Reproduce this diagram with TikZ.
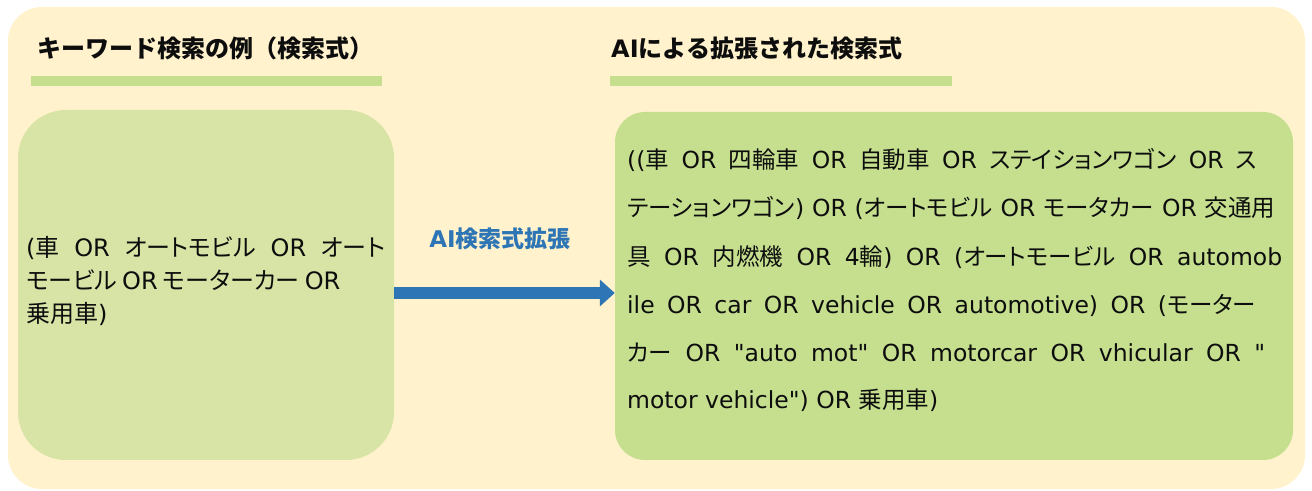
\documentclass[tikz,border=0pt]{standalone}
\usepackage{fontspec}
\setmainfont{DejaVu Sans}[Ligatures=TeXOff]
\newfontfamily\jp[RawFeature=+palt]{Noto Sans CJK JP}
\newfontfamily\jt{Noto Sans CJK JP}
\newcommand\J[1]{{\jp #1}}
\newcommand\JT[1]{{\jt #1}}
\usetikzlibrary{arrows.meta}
\definecolor{bgc}{HTML}{FFF2CC}
\definecolor{lboxc}{HTML}{D8E4A6}
\definecolor{rboxc}{HTML}{C5DF8F}
\definecolor{barc}{HTML}{C5DF8F}
\definecolor{arrowc}{HTML}{2E75B6}
\definecolor{txt}{HTML}{0D0D0D}
\begin{document}
\begin{tikzpicture}[x=1pt,y=1pt,
  panel/.style={draw=none, inner sep=0},
  bar/.style={fill=barc, draw=none, inner sep=0, minimum height=10pt},
  title/.style={anchor=base west, inner sep=0, text=txt, font=\bfseries\fontsize{24}{24}\selectfont},
  ll/.style={anchor=base west, inner sep=0, text=txt, font=\fontsize{24}{24}\selectfont},
  rl/.style={anchor=base west, inner sep=0, text=txt, font=\fontsize{23.5}{23.5}\selectfont}]
\useasboundingbox (0,0) rectangle (1312,490);
% background
\node[panel, fill=bgc, rounded corners=34pt, minimum width=1297pt, minimum height=482pt] (bg) at (656.5,242) {};
% titles
\node[title] (t1) at (37,432) {\JT{キーワード検索の例（検索式）}};
\node[bar, minimum width=351pt] (bar1) at (206.5,409) {};
\node[title] (t2) at (611,432) {AI\JT{による拡張された検索式}};
\node[bar, minimum width=342pt] (bar2) at (781,409) {};
% boxes
\node[panel, fill=lboxc, rounded corners=48pt, minimum width=376pt, minimum height=350pt] (lbox) at (206,205) {};
\node[panel, fill=rboxc, rounded corners=30pt, minimum width=678pt, minimum height=348pt] (rbox) at (954,204) {};
% left text
\node[ll] (l1) at (26,233) {\makebox[359pt][s]{(\J{車} OR \J{オートモビル} OR \J{オート}}};
\node[ll] (l2) at (26,200) {\makebox[307pt][s]{\J{モービル} OR \J{モーターカー} OR}};
\node[ll] (l3) at (26,167) {\J{乗用車})};
% right text
\node[rl] (r1) at (627,321) {\makebox[630pt][s]{((\J{車} OR \J{四輪車} OR \J{自動車} OR \J{ステイションワゴン} OR \J{ス}}};
\node[rl] (r2) at (627,273) {\makebox[648pt][s]{\J{テーションワゴン}) OR (\J{オートモビル} OR \J{モータカー} OR \J{交通用}}};
\node[rl] (r3) at (627,224.5) {\makebox[655pt][s]{\J{具} OR \J{内燃機} OR 4\J{輪}) OR (\J{オートモービル} OR automob}};
\node[rl] (r4) at (627,176.5) {\makebox[629pt][s]{ile OR car OR vehicle OR automotive) OR (\J{モーター}}};
\node[rl] (r5) at (627,128.5) {\makebox[638pt][s]{\J{カー} OR "auto mot" OR motorcar OR vhicular OR "}};
\node[rl] (r6) at (627,81) {motor vehicle") OR \J{乗用車})};
% arrow
\node[anchor=base, inner sep=0, text=arrowc, font=\bfseries\fontsize{23}{23}\selectfont] (lab) at (500,242) {AI\J{検索式拡張}};
\coordinate (ay) at (0,197);
\draw[arrowc, line width=12pt, -{Triangle[length=15pt,width=26pt]}] (lbox.east |- ay) -- (rbox.west |- ay);
\end{tikzpicture}
\end{document}
